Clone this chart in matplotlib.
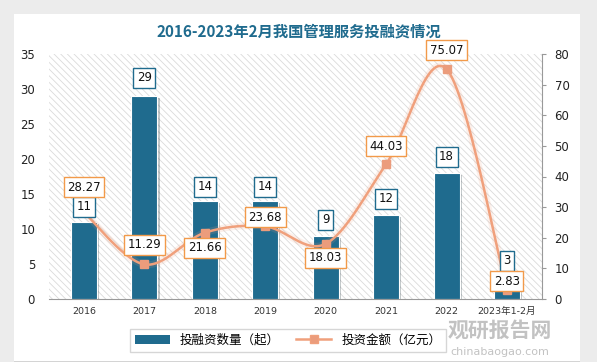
import matplotlib.pyplot as plt
import matplotlib.patheffects as pe
from matplotlib.patches import Rectangle
from matplotlib.lines import Line2D
import numpy as np

plt.rcParams['font.family'] = ['DejaVu Sans', 'Noto Sans CJK SC']
plt.rcParams['hatch.linewidth'] = 0.6

years = ['2016', '2017', '2018', '2019', '2020', '2021', '2022', '2023年1-2月']
counts = [11, 29, 14, 14, 9, 12, 18, 3]
amounts = [28.27, 11.29, 21.66, 23.68, 18.03, 44.03, 75.07, 2.83]

blue = '#1f6b8e'
orange = '#f0a07c'
box_orange = '#f29a4a'

fig = plt.figure(figsize=(5.97, 3.62), dpi=100)
fig.patch.set_facecolor('#ececec')
# white card
card = Rectangle((14 / 597, 1 - 361 / 362), 566 / 597, 347 / 362, transform=fig.transFigure,
                 facecolor='white', edgecolor='none', zorder=-10,
                 path_effects=[pe.SimplePatchShadow(offset=(0, -2), alpha=0.15), pe.Normal()])
fig.patches.append(card)

ax = fig.add_axes([49 / 597, 1 - 299 / 362, 493 / 597, 245 / 362])
ax.set_facecolor('white')
ax.add_patch(Rectangle((0, 0), 1, 1, transform=ax.transAxes, facecolor='white',
                       edgecolor='#dadada', linewidth=0, hatch='\\\\\\\\\\', zorder=0))
x = np.arange(len(years))
bars = ax.bar(x, counts, width=0.43, color=blue, edgecolor='white', linewidth=0.8, zorder=2)
for b in bars:
    b.set_path_effects([pe.SimplePatchShadow(offset=(1.5, -1.5), alpha=0.25), pe.Normal()])
ax.set_xlim(-0.58, len(years) - 0.42)
ax.set_ylim(0, 35)
ax.set_yticks(range(0, 36, 5))
ax.set_xticks(x)
ax.set_xticklabels(years, fontsize=6.8, color='#333333')
ax.tick_params(axis='y', length=0, labelsize=8.5, colors='#222222', pad=10)
ax.tick_params(axis='x', length=0, pad=6)
for s in ['top', 'right', 'left']:
    ax.spines[s].set_visible(False)
ax.spines['bottom'].set_color('#999999')

ax2 = ax.twinx()
ax2.set_ylim(0, 80)
ax2.set_yticks(range(0, 81, 10))
ax2.tick_params(axis='y', labelsize=8.5, colors='#222222', length=3, color='#999999', pad=6)
for s in ['top', 'left', 'bottom']:
    ax2.spines[s].set_visible(False)
ax2.spines['right'].set_color('#999999')

# smooth curve (Catmull-Rom like Excel smoothing)
pts = np.column_stack([x, amounts]).astype(float)
px, py = [], []
for i in range(len(pts) - 1):
    p0 = pts[max(i - 1, 0)]
    p1 = pts[i]
    p2 = pts[i + 1]
    p3 = pts[min(i + 2, len(pts) - 1)]
    c1 = p1 + (p2 - p0) / 6
    c2 = p2 - (p3 - p1) / 6
    t = np.linspace(0, 1, 30)[:, None]
    seg = (1 - t) ** 3 * p1 + 3 * (1 - t) ** 2 * t * c1 + 3 * (1 - t) * t ** 2 * c2 + t ** 3 * p2
    px.extend(seg[:, 0])
    py.extend(seg[:, 1])
ax2.plot(px, py, color=orange, linewidth=1.8, zorder=3,
         path_effects=[pe.Stroke(linewidth=5, foreground=orange, alpha=0.15), pe.Normal()])
ax2.plot(x, amounts, linestyle='none', marker='s', markersize=6, color='#eb9c7c', zorder=4)

# count labels drawn on the top axes so they sit over the line
count_off = [2.2, 2.6, 2.0, 2.0, 2.3, 2.3, 2.3, 2.45]
for xi, c, o in zip(x, counts, count_off):
    ax2.text(xi, c + o, str(c), transform=ax.transData, ha='center', va='center', fontsize=8.5,
             color='#111111', zorder=6,
             bbox=dict(boxstyle='square,pad=0.3', facecolor='white', edgecolor=blue, linewidth=1))

amt_off = [8.2, 6.4, -5.0, 3.0, -4.6, 5.8, 6.2, 2.9]
for xi, a, o in zip(x, amounts, amt_off):
    ax2.text(xi, a + o, f'{a:.2f}', ha='center', va='center', fontsize=8.5, color='#111111', zorder=7,
             bbox=dict(boxstyle='square,pad=0.3', facecolor='white', edgecolor=box_orange, linewidth=1))

fig.text(0.5, 1 - 32 / 362, '2016-2023年2月我国管理服务投融资情况', ha='center', va='center',
         fontsize=11, fontweight='bold', color=blue, family=['Noto Sans CJK SC', 'DejaVu Sans'])

handles = [Rectangle((0, 0), 1, 1, facecolor=blue),
           Line2D([0], [0], color=orange, marker='s', markersize=6, markerfacecolor='#eb9c7c', linewidth=1.8)]
leg = fig.legend(handles, ['投融资数量（起）', '投资金额（亿元）'], loc='center', ncol=2,
                 bbox_to_anchor=(288 / 597, 1 - 340 / 362), frameon=True,
                 fancybox=False, edgecolor='#cccccc', handlelength=2.8, columnspacing=1.3,
                 prop={'family': ['Noto Sans CJK SC'], 'size': 9})

fig.text(500 / 597, 1 - 330 / 362, '观研报告网', ha='center', va='center', fontsize=15,
         fontweight='bold', color='#9a9a9a', alpha=0.6, family=['Noto Sans CJK SC'])
fig.text(500 / 597, 1 - 352 / 362, 'chinabaogao.com', ha='center', va='center', fontsize=8,
         color='#9a9a9a', alpha=0.6)

fig.savefig('out.png', dpi=100)
